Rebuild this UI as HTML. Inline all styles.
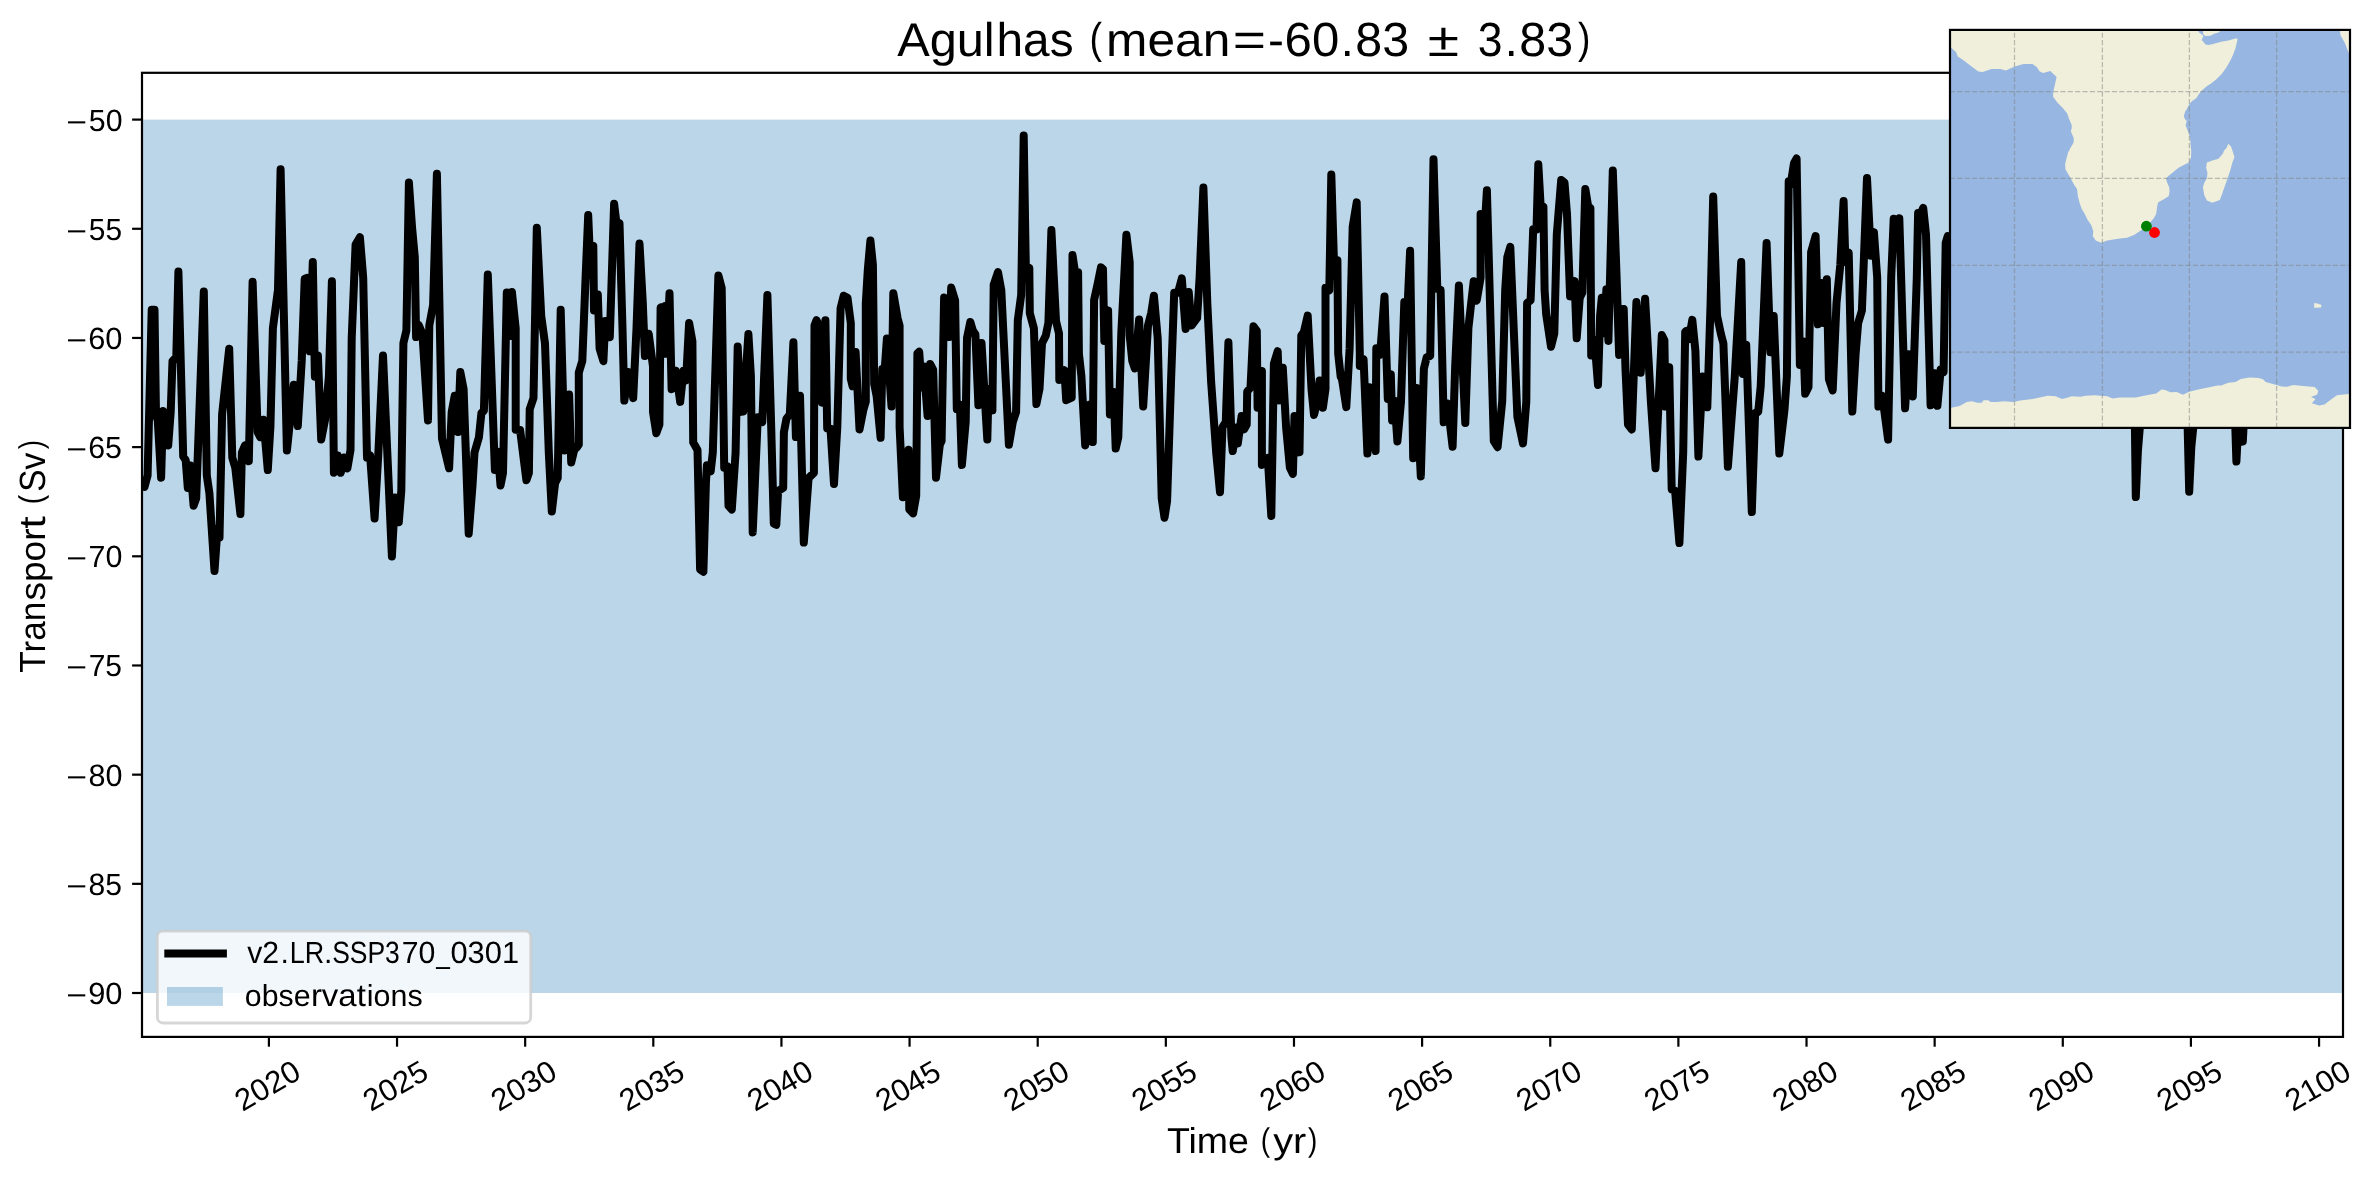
<!DOCTYPE html>
<html><head><meta charset="utf-8"><title>Agulhas transport</title>
<style>html,body{margin:0;padding:0;background:#fff;}svg{display:block;will-change:transform;}text{font-family:"Liberation Sans",sans-serif;fill:#000;text-rendering:geometricPrecision;}</style>
</head><body>
<svg width="2376" height="1180" viewBox="0 0 2376 1180">
<rect x="0" y="0" width="2376" height="1180" fill="#ffffff"/>
<defs><clipPath id="axclip"><rect x="142.0" y="72.8" width="2201.0" height="964.1"/></clipPath>
<clipPath id="inclip"><rect x="1950" y="29.9" width="400" height="398"/></clipPath></defs>
<rect x="142.0" y="119.6" width="2201.0" height="873.4" fill="#1f77b4" fill-opacity="0.3"/>
<polyline clip-path="url(#axclip)" points="142.0,485.6 144.5,486.9 147.6,475.4 151.7,309.8 154.5,309.8 156.0,414.4 157.8,420.8 161.1,477.7 163.1,411.0 165.6,414.8 168.2,445.4 170.7,411.9 172.5,361.0 176.3,357.2 178.4,271.5 183.2,456.4 185.7,460.2 187.8,487.9 190.3,465.6 193.6,505.7 196.2,498.3 203.8,291.4 206.8,475.4 209.4,493.2 214.5,571.0 217.5,528.8 219.5,537.7 222.1,414.4 229.2,348.7 232.3,457.6 235.3,467.8 240.4,514.1 241.9,452.5 245.0,445.3 248.8,461.2 252.6,281.7 257.7,432.2 260.2,437.1 263.5,419.8 267.8,470.1 270.4,427.1 272.9,328.0 278.0,289.8 280.6,169.3 286.9,450.5 293.8,384.8 297.8,426.1 301.7,361.0 304.7,278.8 307.3,277.9 309.8,351.3 312.8,261.9 314.9,376.7 317.9,355.5 321.2,439.6 325.1,419.5 328.9,376.3 331.9,281.2 333.9,472.7 337.8,455.4 340.8,472.7 344.1,457.5 347.4,468.3 350.5,450.0 351.7,338.1 355.6,244.5 359.9,237.2 363.2,277.5 367.0,457.6 370.1,455.4 374.6,518.4 378.4,452.5 383.0,355.5 387.3,452.5 391.9,556.6 395.0,497.4 398.8,522.2 401.3,490.7 403.4,343.2 406.4,330.5 408.9,182.6 412.0,226.7 414.8,257.2 416.1,337.1 418.6,324.9 422.4,333.5 428.0,420.5 429.3,325.4 433.1,305.1 436.9,173.7 442.0,438.6 449.1,468.3 451.7,411.9 454.7,395.7 458.0,432.0 460.3,372.1 463.6,389.0 468.7,533.7 472.5,485.6 474.5,452.5 478.9,437.3 481.4,413.1 483.9,410.6 487.8,274.6 494.9,470.1 497.9,451.6 500.5,485.4 503.0,472.9 506.8,292.6 509.9,336.0 511.9,291.9 515.7,328.4 515.7,429.7 520.1,430.0 522.6,450.0 526.4,480.3 528.9,472.9 529.7,409.3 533.5,397.9 536.8,227.8 541.2,315.7 545.0,343.6 548.8,452.5 551.8,511.6 555.1,483.1 557.7,478.0 560.7,309.8 564.5,450.5 569.1,394.4 571.2,462.5 574.2,450.0 576.7,447.5 578.8,444.7 578.8,372.5 582.3,361.0 585.6,277.5 588.2,215.1 590.7,275.0 593.3,246.1 594.0,310.4 597.8,294.4 599.6,348.7 603.4,361.2 605.2,321.1 609.8,337.1 614.1,203.7 616.9,226.7 619.5,223.2 622.5,328.4 624.3,400.6 628.4,372.0 633.2,398.1 636.5,328.4 639.5,243.6 642.8,303.0 644.9,356.1 648.7,333.8 653.0,366.5 653.0,411.9 656.3,433.2 659.4,424.6 660.6,307.6 661.9,307.1 663.7,353.8 665.2,305.9 667.0,353.8 669.5,293.2 671.6,389.2 675.9,370.7 680.2,401.9 683.5,370.7 686.1,380.3 689.1,322.9 692.4,341.1 693.2,442.4 697.5,450.0 700.1,569.5 703.4,571.8 705.9,483.1 706.9,465.3 710.7,471.4 712.8,452.5 718.4,275.4 721.7,288.1 724.2,467.8 727.5,466.5 728.5,505.9 731.8,509.5 735.6,452.5 737.7,346.6 740.7,411.9 743.3,411.6 748.4,333.9 750.9,376.3 752.7,532.4 757.8,417.3 762.3,422.0 767.4,294.9 771.2,427.1 773.8,523.7 776.3,524.8 778.1,491.0 783.2,487.9 783.9,432.2 786.5,418.6 789.8,414.4 793.4,342.3 795.9,437.1 800.0,395.7 803.8,542.6 808.6,478.0 813.9,472.9 814.5,325.4 816.5,320.2 819.0,325.4 822.1,402.7 825.4,320.2 827.2,428.4 830.5,428.7 834.0,484.1 837.3,427.1 840.6,308.1 843.7,295.7 847.5,297.7 850.8,323.3 850.8,378.8 852.6,386.2 855.6,352.0 859.5,429.4 863.5,409.3 865.8,401.7 865.8,303.0 867.8,269.9 870.4,240.5 872.9,264.8 874.2,383.9 876.7,396.6 880.6,437.8 882.3,369.0 884.4,373.7 886.9,338.5 891.5,406.6 893.3,293.2 897.6,318.2 899.6,325.8 899.6,427.1 902.9,497.3 908.5,449.8 909.3,509.5 913.1,513.3 916.2,495.8 917.4,353.4 919.2,351.7 921.7,387.5 923.8,366.5 927.6,416.0 930.1,363.9 933.2,369.9 936.0,477.7 939.8,444.9 941.6,441.1 944.1,297.5 946.2,300.8 949.2,337.1 951.2,287.6 955.1,300.4 956.8,409.3 959.9,404.6 961.9,465.0 965.7,422.0 967.0,338.1 970.3,322.0 972.8,330.5 975.4,334.3 978.4,405.3 981.5,343.1 987.3,439.6 988.6,389.0 992.4,410.4 993.7,284.7 998.0,272.1 1001.3,290.3 1008.9,444.7 1012.8,422.0 1016.1,411.9 1017.8,320.3 1021.2,294.9 1023.7,135.5 1026.0,277.5 1029.3,267.7 1029.8,313.1 1033.9,328.4 1036.4,404.0 1039.5,389.0 1042.0,343.2 1045.8,335.6 1048.4,322.9 1051.4,230.1 1056.0,320.8 1059.0,333.5 1059.3,379.9 1064.4,370.3 1066.2,400.2 1071.7,397.7 1072.5,255.0 1075.1,272.5 1078.1,272.3 1078.9,353.8 1081.4,376.3 1085.2,445.4 1089.8,404.6 1092.8,442.1 1094.1,300.0 1097.9,282.6 1101.0,267.4 1103.0,269.0 1104.3,340.9 1108.1,310.4 1109.9,414.4 1113.7,391.9 1115.7,448.5 1118.3,437.3 1121.3,333.1 1126.4,234.7 1129.7,262.3 1129.7,335.6 1132.3,361.0 1134.8,368.4 1139.1,319.4 1143.2,406.6 1148.0,325.4 1151.3,312.7 1153.9,295.7 1157.7,338.1 1161.7,498.3 1164.5,517.7 1167.1,500.8 1171.2,376.3 1174.2,292.8 1178.0,292.8 1181.8,278.4 1185.6,328.9 1188.7,291.9 1191.5,325.6 1197.1,318.2 1199.6,277.5 1203.4,187.6 1207.3,303.0 1211.1,381.4 1216.2,452.5 1220.0,492.2 1222.5,427.1 1225.8,422.0 1228.4,342.3 1231.4,437.3 1232.7,451.0 1236.5,427.5 1237.8,443.4 1241.6,416.0 1244.1,429.4 1246.7,424.6 1247.2,391.5 1250.5,387.7 1253.5,326.3 1256.8,330.9 1257.6,407.8 1261.9,371.0 1261.9,465.0 1267.8,458.0 1271.3,515.9 1273.9,363.6 1277.7,351.2 1279.2,400.4 1282.8,367.7 1286.1,427.1 1289.9,467.8 1292.9,473.9 1294.5,416.0 1296.2,452.5 1299.5,452.3 1301.3,335.6 1303.9,331.8 1307.7,315.6 1311.5,389.0 1314.0,414.9 1317.3,401.7 1319.6,380.4 1322.9,407.8 1325.5,389.0 1325.5,287.7 1329.3,290.3 1331.3,174.4 1334.4,276.0 1337.4,260.1 1338.2,353.8 1340.7,376.7 1342.0,379.2 1346.3,407.1 1349.6,348.7 1352.7,226.7 1356.7,202.4 1359.8,353.8 1359.8,365.9 1363.6,359.3 1367.4,453.6 1369.5,387.3 1375.6,451.0 1376.3,348.3 1380.1,354.7 1384.5,296.5 1387.8,398.9 1390.8,374.1 1392.1,420.5 1394.6,400.8 1397.4,441.4 1401.0,401.7 1404.3,302.1 1406.8,324.3 1410.1,250.7 1413.2,458.2 1416.5,388.1 1420.8,476.5 1423.9,368.6 1426.7,357.2 1430.2,355.9 1433.5,159.2 1437.3,288.8 1440.6,289.8 1443.7,422.3 1447.5,403.3 1452.6,446.7 1455.1,368.6 1458.9,285.5 1465.3,423.1 1468.4,328.0 1471.2,303.0 1473.7,281.2 1476.7,300.7 1480.6,277.9 1480.6,214.0 1484.4,232.8 1486.9,190.2 1493.8,441.1 1497.6,447.2 1502.2,401.7 1505.2,290.3 1507.3,257.2 1510.3,246.9 1517.4,416.9 1523.0,443.4 1526.3,401.7 1527.1,303.0 1530.6,300.4 1533.2,229.2 1536.5,229.6 1538.3,164.3 1540.8,208.7 1543.4,206.7 1544.6,290.3 1546.2,314.4 1551.0,346.7 1554.3,333.5 1556.8,234.3 1561.2,180.0 1564.5,182.6 1567.0,214.0 1570.1,296.4 1574.6,281.2 1576.7,338.3 1579.7,297.9 1582.3,292.8 1585.3,188.9 1588.1,206.1 1590.4,208.0 1591.2,355.4 1594.5,340.2 1598.0,384.9 1600.1,315.7 1601.8,297.7 1603.9,333.2 1606.4,289.3 1608.4,340.9 1612.8,170.4 1616.6,277.5 1619.1,354.9 1623.7,308.9 1625.5,369.1 1628.0,424.6 1631.8,429.4 1636.4,302.1 1640.7,372.7 1645.1,298.7 1650.9,401.7 1655.5,468.3 1661.8,335.1 1664.4,340.2 1665.4,406.6 1669.2,367.2 1671.7,489.4 1675.1,490.7 1679.4,543.1 1683.2,452.5 1685.2,331.8 1686.5,330.9 1689.0,339.2 1692.3,319.9 1695.4,350.8 1698.4,456.6 1702.5,376.6 1707.3,407.3 1710.6,303.0 1713.2,196.5 1717.0,315.7 1720.8,333.5 1723.4,343.6 1727.9,466.8 1734.8,376.3 1741.2,262.1 1742.9,373.9 1746.2,344.8 1751.8,512.1 1755.1,413.1 1758.2,411.9 1760.7,386.4 1766.6,243.1 1770.4,352.3 1773.7,316.0 1779.3,453.6 1784.4,410.6 1786.9,376.3 1788.7,181.3 1790.7,184.7 1794.0,163.1 1796.6,158.4 1799.9,365.0 1801.2,353.8 1803.4,341.5 1805.2,393.8 1808.5,386.9 1811.1,252.1 1815.6,236.0 1817.9,324.3 1821.2,283.0 1823.3,323.1 1826.8,279.2 1828.9,379.2 1832.7,390.4 1836.5,303.0 1840.3,264.8 1843.6,201.1 1845.4,262.1 1848.7,252.5 1852.3,411.6 1855.6,353.8 1858.1,323.3 1861.9,310.6 1867.0,178.0 1870.8,255.7 1873.9,232.1 1877.2,277.5 1878.4,406.6 1882.3,395.7 1888.1,439.6 1891.2,277.5 1893.7,218.7 1896.5,245.5 1899.3,218.2 1905.1,408.3 1908.4,354.3 1912.8,396.4 1916.8,277.5 1918.1,213.1 1920.6,213.8 1923.2,208.0 1926.0,234.3 1930.6,405.3 1934.4,373.2 1937.4,405.8 1940.7,369.4 1943.6,372.0 1945.7,243.0 1947.8,236.0 1950.0,238.0 1954.0,300.0 2100.0,300.0 2131.5,300.0 2133.7,330.0 2135.8,497.1 2137.9,451.0 2140.1,424.0 2142.0,330.0 2184.8,330.0 2187.0,400.0 2189.2,491.7 2191.3,447.0 2193.5,425.0 2195.6,330.0 2232.2,330.0 2234.3,395.0 2236.4,461.6 2238.5,420.0 2240.7,441.8 2242.8,441.5 2245.0,400.0 2247.0,330.0 2341.0,330.0 2343.0,300.0" fill="none" stroke="#000" stroke-width="8.0" stroke-linejoin="round" stroke-linecap="butt"/>
<rect x="142.0" y="72.8" width="2201.0" height="964.1" fill="none" stroke="#000" stroke-width="2.2"/>
<line x1="132.1" y1="993.00" x2="142.0" y2="993.00" stroke="#000" stroke-width="2.2"/>
<text transform="translate(66.21,1005.00) scale(1.2800,1.0450)" font-size="27.78">−</text>
<text transform="translate(88.24,1004.00) scale(1.1092,1.1039)" font-size="27.78">90</text>
<line x1="132.1" y1="883.83" x2="142.0" y2="883.83" stroke="#000" stroke-width="2.2"/>
<text transform="translate(66.21,895.83) scale(1.2800,1.0450)" font-size="27.78">−</text>
<text transform="translate(88.54,894.83) scale(1.0830,1.1039)" font-size="27.78">85</text>
<line x1="132.1" y1="774.65" x2="142.0" y2="774.65" stroke="#000" stroke-width="2.2"/>
<text transform="translate(66.21,786.65) scale(1.2800,1.0450)" font-size="27.78">−</text>
<text transform="translate(88.52,785.65) scale(1.1000,1.1039)" font-size="27.78">80</text>
<line x1="132.1" y1="665.48" x2="142.0" y2="665.48" stroke="#000" stroke-width="2.2"/>
<text transform="translate(66.21,677.48) scale(1.2800,1.0450)" font-size="27.78">−</text>
<text transform="translate(88.65,676.48) scale(1.0793,1.0980)" font-size="27.78">75</text>
<line x1="132.1" y1="556.30" x2="142.0" y2="556.30" stroke="#000" stroke-width="2.2"/>
<text transform="translate(66.21,568.30) scale(1.2800,1.0450)" font-size="27.78">−</text>
<text transform="translate(88.62,567.30) scale(1.0965,1.1039)" font-size="27.78">70</text>
<line x1="132.1" y1="447.12" x2="142.0" y2="447.12" stroke="#000" stroke-width="2.2"/>
<text transform="translate(66.21,459.12) scale(1.2800,1.0450)" font-size="27.78">−</text>
<text transform="translate(88.25,458.12) scale(1.0925,1.1039)" font-size="27.78">65</text>
<line x1="132.1" y1="337.95" x2="142.0" y2="337.95" stroke="#000" stroke-width="2.2"/>
<text transform="translate(66.21,349.95) scale(1.2800,1.0450)" font-size="27.78">−</text>
<text transform="translate(88.23,348.95) scale(1.1096,1.1039)" font-size="27.78">60</text>
<line x1="132.1" y1="228.78" x2="142.0" y2="228.78" stroke="#000" stroke-width="2.2"/>
<text transform="translate(66.21,240.78) scale(1.2800,1.0450)" font-size="27.78">−</text>
<text transform="translate(88.80,239.78) scale(1.0742,1.0980)" font-size="27.78">55</text>
<line x1="132.1" y1="119.60" x2="142.0" y2="119.60" stroke="#000" stroke-width="2.2"/>
<text transform="translate(66.21,131.60) scale(1.2800,1.0450)" font-size="27.78">−</text>
<text transform="translate(88.78,130.60) scale(1.0913,1.1039)" font-size="27.78">50</text>
<line x1="268.90" y1="1036.9" x2="268.90" y2="1046.7" stroke="#000" stroke-width="2.2"/>
<g transform="translate(267.50,1085.5) rotate(-30)">
<text transform="translate(-34.89,10.50) scale(1.1263,1.1039)" font-size="27.78">2020</text>
</g>
<line x1="397.03" y1="1036.9" x2="397.03" y2="1046.7" stroke="#000" stroke-width="2.2"/>
<g transform="translate(395.63,1085.5) rotate(-30)">
<text transform="translate(-34.88,10.50) scale(1.1181,1.1039)" font-size="27.78">2025</text>
</g>
<line x1="525.17" y1="1036.9" x2="525.17" y2="1046.7" stroke="#000" stroke-width="2.2"/>
<g transform="translate(523.77,1085.5) rotate(-30)">
<text transform="translate(-34.89,10.50) scale(1.1263,1.1039)" font-size="27.78">2030</text>
</g>
<line x1="653.30" y1="1036.9" x2="653.30" y2="1046.7" stroke="#000" stroke-width="2.2"/>
<g transform="translate(651.90,1085.5) rotate(-30)">
<text transform="translate(-34.88,10.50) scale(1.1181,1.1039)" font-size="27.78">2035</text>
</g>
<line x1="781.44" y1="1036.9" x2="781.44" y2="1046.7" stroke="#000" stroke-width="2.2"/>
<g transform="translate(780.04,1085.5) rotate(-30)">
<text transform="translate(-34.89,10.50) scale(1.1263,1.1039)" font-size="27.78">2040</text>
</g>
<line x1="909.57" y1="1036.9" x2="909.57" y2="1046.7" stroke="#000" stroke-width="2.2"/>
<g transform="translate(908.17,1085.5) rotate(-30)">
<text transform="translate(-34.88,10.50) scale(1.1181,1.1039)" font-size="27.78">2045</text>
</g>
<line x1="1037.71" y1="1036.9" x2="1037.71" y2="1046.7" stroke="#000" stroke-width="2.2"/>
<g transform="translate(1036.31,1085.5) rotate(-30)">
<text transform="translate(-34.89,10.50) scale(1.1263,1.1039)" font-size="27.78">2050</text>
</g>
<line x1="1165.84" y1="1036.9" x2="1165.84" y2="1046.7" stroke="#000" stroke-width="2.2"/>
<g transform="translate(1164.44,1085.5) rotate(-30)">
<text transform="translate(-34.88,10.50) scale(1.1181,1.1039)" font-size="27.78">2055</text>
</g>
<line x1="1293.98" y1="1036.9" x2="1293.98" y2="1046.7" stroke="#000" stroke-width="2.2"/>
<g transform="translate(1292.58,1085.5) rotate(-30)">
<text transform="translate(-34.89,10.50) scale(1.1263,1.1039)" font-size="27.78">2060</text>
</g>
<line x1="1422.11" y1="1036.9" x2="1422.11" y2="1046.7" stroke="#000" stroke-width="2.2"/>
<g transform="translate(1420.71,1085.5) rotate(-30)">
<text transform="translate(-34.88,10.50) scale(1.1181,1.1039)" font-size="27.78">2065</text>
</g>
<line x1="1550.25" y1="1036.9" x2="1550.25" y2="1046.7" stroke="#000" stroke-width="2.2"/>
<g transform="translate(1548.85,1085.5) rotate(-30)">
<text transform="translate(-34.89,10.50) scale(1.1263,1.1039)" font-size="27.78">2070</text>
</g>
<line x1="1678.38" y1="1036.9" x2="1678.38" y2="1046.7" stroke="#000" stroke-width="2.2"/>
<g transform="translate(1676.98,1085.5) rotate(-30)">
<text transform="translate(-34.88,10.50) scale(1.1181,1.1039)" font-size="27.78">2075</text>
</g>
<line x1="1806.52" y1="1036.9" x2="1806.52" y2="1046.7" stroke="#000" stroke-width="2.2"/>
<g transform="translate(1805.12,1085.5) rotate(-30)">
<text transform="translate(-34.89,10.50) scale(1.1263,1.1039)" font-size="27.78">2080</text>
</g>
<line x1="1934.65" y1="1036.9" x2="1934.65" y2="1046.7" stroke="#000" stroke-width="2.2"/>
<g transform="translate(1933.25,1085.5) rotate(-30)">
<text transform="translate(-34.88,10.50) scale(1.1181,1.1039)" font-size="27.78">2085</text>
</g>
<line x1="2062.79" y1="1036.9" x2="2062.79" y2="1046.7" stroke="#000" stroke-width="2.2"/>
<g transform="translate(2061.39,1085.5) rotate(-30)">
<text transform="translate(-34.89,10.50) scale(1.1263,1.1039)" font-size="27.78">2090</text>
</g>
<line x1="2190.92" y1="1036.9" x2="2190.92" y2="1046.7" stroke="#000" stroke-width="2.2"/>
<g transform="translate(2189.52,1085.5) rotate(-30)">
<text transform="translate(-34.88,10.50) scale(1.1181,1.1039)" font-size="27.78">2095</text>
</g>
<line x1="2319.06" y1="1036.9" x2="2319.06" y2="1046.7" stroke="#000" stroke-width="2.2"/>
<g transform="translate(2317.66,1085.5) rotate(-30)">
<text transform="translate(-34.89,10.50) scale(1.1263,1.1039)" font-size="27.78">2100</text>
</g>
<text transform="translate(1166.91,1152.80) scale(1.1259,1.0823)" font-size="33.33">Time</text>
<text transform="translate(1260.66,1150.51) scale(0.8400,0.9875)" font-size="33.33">(</text>
<text transform="translate(1273.25,1152.80) scale(1.1909,1.0719)" font-size="33.33">yr</text>
<text transform="translate(1308.04,1150.51) scale(0.8400,0.9875)" font-size="33.33">)</text>
<g transform="translate(44.6,671.9) rotate(-90)">
<text transform="translate(-0.79,0.00) scale(1.0542,1.0905)" font-size="33.33">Tran</text>
<text transform="translate(71.34,0.00) scale(1.1119,1.0719)" font-size="33.33">spor</text>
<text transform="translate(143.11,0.00) scale(1.3477,1.1123)" font-size="33.33">t</text>
<text transform="translate(167.66,-2.29) scale(0.8418,0.9875)" font-size="33.33">(</text>
<text transform="translate(180.04,0.00) scale(1.0062,1.0954)" font-size="33.33">Sv</text>
<text transform="translate(222.57,-2.29) scale(0.8418,0.9875)" font-size="33.33">)</text>
</g>
<text transform="translate(897.16,56.10) scale(1.0963,1.0659)" font-size="44.44">Agul</text>
<text transform="translate(996.46,56.10) scale(1.0763,1.0659)" font-size="44.44">has</text>
<text transform="translate(1089.45,53.09) scale(0.8480,0.9725)" font-size="44.44">(</text>
<text transform="translate(1106.10,56.10) scale(1.1180,1.0556)" font-size="44.44">mean</text>
<text transform="translate(1232.80,56.10) scale(1.2827,1.0643)" font-size="44.44">=</text>
<text transform="translate(1267.98,56.10) scale(1.0766,1.0643)" font-size="44.44">-</text>
<text transform="translate(1284.62,56.10) scale(1.1059,1.0799)" font-size="44.44">60</text>
<text transform="translate(1340.86,56.10) scale(1.0533,1.0643)" font-size="44.44">.</text>
<text transform="translate(1355.37,56.10) scale(1.0890,1.0799)" font-size="44.44">83</text>
<text transform="translate(1427.69,56.10) scale(1.2827,1.0643)" font-size="44.44">±</text>
<text transform="translate(1477.76,56.10) scale(1.0023,1.0799)" font-size="44.44">3</text>
<text transform="translate(1504.72,56.10) scale(1.0533,1.0643)" font-size="44.44">.</text>
<text transform="translate(1519.22,56.10) scale(1.0890,1.0799)" font-size="44.44">83</text>
<text transform="translate(1578.03,53.09) scale(0.8391,0.9725)" font-size="44.44">)</text>
<rect x="157.4" y="931.1" width="373.3" height="91.9" rx="5.5" ry="5.5" fill="#fff" fill-opacity="0.8" stroke="#cccccc" stroke-opacity="0.8" stroke-width="2.78"/>
<line x1="164.3" y1="953.5" x2="226.9" y2="953.5" stroke="#000" stroke-width="8.2"/>
<rect x="167.0" y="987.0" width="55.9" height="18.9" fill="#1f77b4" fill-opacity="0.3"/>
<text transform="translate(247.26,963.10) scale(1.0880,1.1039)" font-size="27.78">v2</text>
<text transform="translate(280.60,963.10) scale(1.0848,1.0837)" font-size="27.78">.</text>
<text transform="translate(289.78,963.10) scale(0.9711,1.0980)" font-size="27.78">LR</text>
<text transform="translate(323.96,963.10) scale(1.0848,1.0837)" font-size="27.78">.</text>
<text transform="translate(332.16,963.10) scale(0.9527,1.1039)" font-size="27.78">SSP3</text>
<text transform="translate(401.64,963.10) scale(1.0903,1.1039)" font-size="27.78">70</text>
<text transform="translate(436.24,963.10) scale(0.8796,1.0837)" font-size="27.78">_</text>
<text transform="translate(450.49,963.10) scale(1.1093,1.1039)" font-size="27.78">0301</text>
<text transform="translate(244.87,1005.80) scale(1.0900,1.0885)" font-size="27.78">obse</text>
<text transform="translate(310.89,1005.80) scale(1.1862,1.1240)" font-size="27.78">rvat</text>
<text transform="translate(366.81,1005.80) scale(1.0958,1.0885)" font-size="27.78">ions</text>
<g clip-path="url(#inclip)">
<rect x="1950" y="29.9" width="400" height="398" fill="#97b6e1"/>
<polygon points="1950.0,46.7 1956.0,52.0 1957.8,56.5 1963.1,60.0 1970.3,65.4 1978.3,71.6 1982.7,72.0 1991.6,68.9 2000.5,68.9 2005.8,70.4 2014.7,66.6 2023.6,64.1 2032.5,64.0 2037.0,67.2 2039.7,71.6 2043.2,72.9 2050.3,71.1 2056.6,76.9 2054.8,85.0 2053.4,91.2 2053.0,96.5 2057.5,102.8 2062.8,108.1 2067.2,113.4 2069.0,118.8 2071.7,125.0 2071.7,128.6 2070.8,131.2 2073.8,138.3 2073.5,142.8 2070.8,147.2 2068.1,152.6 2066.4,158.8 2065.1,164.2 2065.5,169.5 2068.1,173.9 2070.8,178.4 2073.5,183.7 2077.0,189.1 2077.9,196.2 2079.7,203.3 2081.5,208.6 2084.2,213.1 2087.7,220.0 2091.3,225.3 2093.4,231.6 2092.7,236.0 2095.7,240.5 2101.1,242.8 2107.3,240.5 2118.0,238.7 2126.9,237.8 2134.0,235.1 2139.3,231.6 2142.9,228.9 2147.3,225.3 2150.0,222.8 2153.6,218.4 2156.2,214.0 2157.1,206.9 2158.0,202.4 2164.2,198.9 2168.7,196.2 2169.6,191.7 2169.2,187.3 2166.9,181.9 2166.0,178.4 2168.7,175.7 2173.1,172.2 2178.5,167.7 2183.8,165.0 2188.8,162.4 2190.9,157.9 2191.3,151.7 2190.6,144.6 2190.0,137.5 2188.3,132.1 2186.1,126.8 2185.6,125.0 2186.8,120.9 2184.7,118.8 2183.8,116.1 2185.1,111.7 2187.4,108.1 2189.2,104.5 2191.8,101.3 2196.3,98.3 2198.4,94.7 2201.6,90.7 2206.1,86.7 2211.4,83.2 2216.7,79.1 2222.1,73.4 2226.5,67.2 2230.1,60.9 2233.1,54.7 2235.4,48.5 2236.7,43.1 2237.6,39.6 2236.7,38.2 2233.6,39.0 2228.3,40.5 2221.2,41.7 2214.1,43.8 2208.7,44.9 2205.5,44.4 2203.4,41.7 2201.6,39.9 2202.5,38.2 2203.4,36.4 2202.0,34.6 2199.8,33.3 2198.1,31.0 2198.1,28.9 1948.9,28.9" fill="#efefdb"/>
<polygon points="2202.9,28.9 2203.2,34.2 2205.2,36.0 2210.5,35.8 2214.1,33.7 2218.5,32.5 2222.1,28.9" fill="#efefdb"/>
<polygon points="2339.9,28.9 2340.4,35.1 2342.6,39.0 2344.9,43.1 2347.0,48.5 2348.8,52.9 2351.1,52.9 2351.1,28.9" fill="#efefdb"/>
<polygon points="2228.3,143.7 2231.0,146.4 2232.8,151.7 2234.5,157.0 2232.4,162.4 2230.3,170.2 2227.6,178.2 2224.7,186.4 2222.1,193.9 2219.8,199.9 2212.3,202.8 2206.9,200.6 2204.3,195.3 2202.9,187.3 2204.3,182.8 2206.9,178.4 2207.5,173.1 2206.1,167.7 2206.9,162.4 2212.3,160.6 2218.5,158.8 2223.0,153.5 2223.9,150.8 2226.5,148.1" fill="#efefdb"/>
<polygon points="1948.9,408.1 1959.6,406.0 1966.7,401.9 1972.0,401.2 1977.4,402.8 1981.8,402.8 1983.6,400.3 1988.1,400.3 1990.7,401.9 1996.9,401.9 2004.1,401.2 2013.0,401.9 2020.1,400.6 2032.5,398.9 2039.7,397.6 2047.7,395.8 2055.7,396.2 2061.9,398.9 2066.4,398.0 2071.7,396.2 2080.6,396.7 2085.9,395.8 2094.8,395.3 2107.3,396.2 2112.6,398.5 2119.7,397.6 2135.8,397.4 2146.4,395.3 2156.2,393.5 2161.6,389.4 2165.1,390.0 2170.5,392.3 2176.7,392.1 2182.9,394.8 2189.2,391.7 2198.1,389.4 2210.5,386.9 2217.6,385.5 2221.2,385.5 2228.3,382.8 2235.4,381.9 2240.8,378.9 2249.7,377.5 2258.6,377.9 2263.0,379.3 2265.7,381.9 2272.8,384.1 2281.7,386.4 2287.0,386.8 2293.3,385.0 2303.1,386.0 2314.6,386.9 2318.2,390.8 2317.3,394.4 2311.1,397.1 2315.5,398.9 2311.9,403.3 2319.1,405.6 2324.4,404.6 2329.7,400.6 2336.9,395.3 2348.4,393.9 2351.1,393.9 2351.1,429.1 1948.9,429.1" fill="#efefdb"/>
<polygon points="2314.3,302.9 2317.3,303.6 2321.7,305.1 2320.8,307.6 2314.1,307.7" fill="#efefdb"/>
<line x1="2014.5" y1="427.9" x2="2014.5" y2="29.9" stroke="#808080" stroke-opacity="0.5" stroke-width="1.25" stroke-dasharray="5.14 2.22"/>
<line x1="2102.4" y1="427.9" x2="2102.4" y2="29.9" stroke="#808080" stroke-opacity="0.5" stroke-width="1.25" stroke-dasharray="5.14 2.22"/>
<line x1="2189.4" y1="427.9" x2="2189.4" y2="29.9" stroke="#808080" stroke-opacity="0.5" stroke-width="1.25" stroke-dasharray="5.14 2.22"/>
<line x1="2276.6" y1="427.9" x2="2276.6" y2="29.9" stroke="#808080" stroke-opacity="0.5" stroke-width="1.25" stroke-dasharray="5.14 2.22"/>
<line x1="1950" y1="91.5" x2="2350" y2="91.5" stroke="#808080" stroke-opacity="0.5" stroke-width="1.25" stroke-dasharray="5.14 2.22"/>
<line x1="1950" y1="178.3" x2="2350" y2="178.3" stroke="#808080" stroke-opacity="0.5" stroke-width="1.25" stroke-dasharray="5.14 2.22"/>
<line x1="1950" y1="265.3" x2="2350" y2="265.3" stroke="#808080" stroke-opacity="0.5" stroke-width="1.25" stroke-dasharray="5.14 2.22"/>
<line x1="1950" y1="352.2" x2="2350" y2="352.2" stroke="#808080" stroke-opacity="0.5" stroke-width="1.25" stroke-dasharray="5.14 2.22"/>
<circle cx="2154.5" cy="232.5" r="5.4" fill="#ff0000"/>
<circle cx="2146.4" cy="226.2" r="5.4" fill="#008000"/>
</g>
<rect x="1950" y="29.9" width="400" height="398" fill="none" stroke="#000" stroke-width="2.2"/>
</svg></body></html>
